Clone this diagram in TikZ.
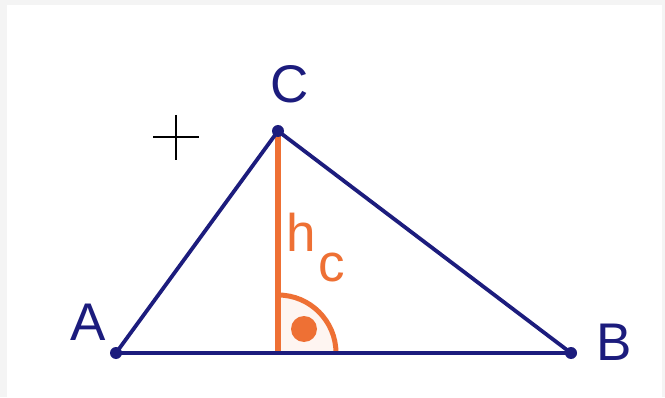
\documentclass[tikz,border=0pt]{standalone}
\usepackage{fontspec}
\setmainfont{Liberation Sans}
\definecolor{navy}{RGB}{28,28,125}
\definecolor{orng}{RGB}{238,112,52}
\definecolor{frame}{RGB}{244,244,244}
\begin{document}
\begin{tikzpicture}[x=1pt,y=1pt,
  side/.style={draw=navy,line width=3.8pt,line cap=round},
  alt/.style={draw=orng,line width=5.5pt},
  vdot/.style={circle,fill=navy,inner sep=0pt,minimum size=12pt},
  lbl/.style={text=navy,font=\fontsize{53}{53}\selectfont,inner sep=0pt},
  hlbl/.style={text=orng,font=\fontsize{53}{53}\selectfont,inner sep=0pt,anchor=base west}]
\useasboundingbox (0,0) rectangle (665,397);
\fill[frame] (0,0) rectangle (665,397);
\fill[white] (7,0) rectangle (662,392);
% points
\coordinate (A) at (116,44);
\coordinate (B) at (571,44);
\coordinate (C) at (278,266);
\coordinate (F) at (278,44);
% right-angle mark
\fill[orng!7] (F) -- (336,44) arc[start angle=0,end angle=90,radius=58] -- cycle;
\draw[draw=orng,line width=5pt] (336,44) arc[start angle=0,end angle=90,radius=58];
\fill[orng] (304,68) circle[radius=13];
% altitude
\draw[alt] (C) -- (F);
% sides
\draw[side] (A) -- (B) -- (C) -- cycle;
\node[vdot] (dA) at (A) {};
\node[vdot] (dB) at (B) {};
\node[vdot] (dC) at (C) {};
% labels
\node[lbl] (lC) at (290,313) {C};
\node[lbl] (lA) at (88,75) {A};
\node[lbl] (lB) at (614,55) {B};
\node[hlbl] (lh) at (286,145) {h};
\node[hlbl] (lc) at (318,115) {c};
% cross
\coordinate (X) at (176,260);
\draw[black,line width=1.2pt] (153,260) -- (199,260) (176,282) -- (176,237);
\end{tikzpicture}
\end{document}
